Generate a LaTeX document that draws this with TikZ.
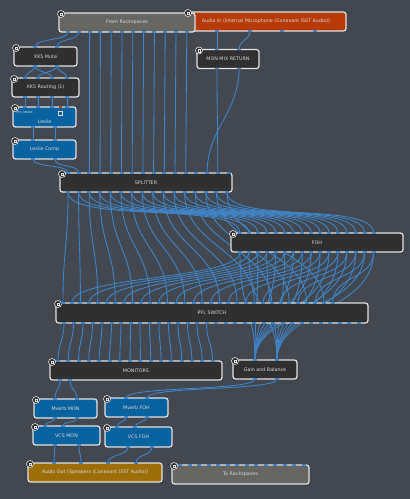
\documentclass[tikz,border=0pt]{standalone}
\usepackage{fontspec}
\setmainfont{DejaVu Sans}
\usepackage{xcolor}
\usepackage{tikz}
\usetikzlibrary{calc}

\definecolor{canvas}{RGB}{66,71,80}
\definecolor{rim}{RGB}{226,226,226}
\definecolor{txtgray}{RGB}{214,214,214}
\definecolor{coal}{RGB}{48,48,48}
\definecolor{slate}{RGB}{102,102,98}
\definecolor{plug}{RGB}{10,98,158}
\definecolor{rust}{RGB}{184,58,10}
\definecolor{ochre}{RGB}{158,110,8}
\definecolor{wire}{RGB}{64,132,198}

\pgfdeclarelayer{back}
\pgfdeclarelayer{wires}
\pgfsetlayers{back,wires,main}

\begin{document}
\begin{tikzpicture}[x=1pt,y=-1pt,font=\fontsize{4.8}{5.6}\selectfont,
  blk/.style={draw=rim,line width=1.2pt,rounded corners=2.6pt,fill=coal,text=txtgray,
    minimum height=19pt,inner sep=0pt,outer sep=0pt},
  ico/.style={circle,draw=rim,fill=coal,line width=0.6pt,minimum size=7pt,inner sep=0pt,
    path picture={\draw[rim,line width=0.4pt]
      ([shift={(-1.3,-1.3)}]path picture bounding box.center) rectangle
      ([shift={(1.3,1.3)}]path picture bounding box.center);}},
  lnk/.style={draw=wire,line width=0.85pt}]
\begin{pgfonlayer}{back}
\fill[canvas] (0,0) rectangle (410,499);
\end{pgfonlayer}
\useasboundingbox (0,0) rectangle (410,499);

% blocks
\node[blk,fill=rust,minimum width=160pt] (ain) at (266,21.5) {Audio In (Internal Microphone (Conexant ISST Audio))};
\node[blk,fill=slate,minimum width=136pt] (rack) at (127,22.5) {From Rackspaces};
\node[blk,minimum width=62pt] (mmr) at (228,59) {MON MIX RETURN};
\node[blk,minimum width=63pt] (mute) at (45.5,56.5) {XK5 Mute};
\node[blk,minimum width=67pt] (route) at (45.5,87.5) {XK5 Routing (1)};
\node[blk,fill=plug,minimum width=63pt,minimum height=20pt] (leslie) at (44.5,117) {};
\node[blk,fill=plug,minimum width=63pt] (lcomp) at (44.5,149.5) {Leslie Comp};
\node[blk,minimum width=172pt] (split) at (146,182.5) {SPLITTER};
\node[blk,minimum width=172pt] (foh) at (317,242.5) {FOH};
\node[blk,minimum width=312pt,minimum height=20pt] (pfl) at (212,313) {PFL SWITCH};
\node[blk,minimum width=172pt] (mon) at (136,370.5) {MONITORS};
\node[blk,minimum width=64pt] (gab) at (265,369.5) {Gain and Balance};
\node[blk,fill=plug,minimum width=63pt] (mvm) at (65.5,408.5) {Mverb MON};
\node[blk,fill=plug,minimum width=63pt] (mvf) at (136.5,407.5) {Mverb FOH};
\node[blk,fill=plug,minimum width=67pt] (vcsm) at (66.5,435.5) {VCS MON};
\node[blk,fill=plug,minimum width=67pt,minimum height=20pt] (vcsf) at (138.5,437) {VCS FOH};
\node[blk,fill=ochre,minimum width=134pt] (aout) at (95,472.5) {Audio Out (Speakers (Conexant ISST Audio))};
\node[blk,fill=slate,minimum width=137pt] (torack) at (240.5,474.5) {To Rackspaces};

% leslie face
\node[text=txtgray] (leslie-t) at (44.5,122) {Leslie};
\node[text=txtgray,font=\fontsize{3.6}{4}\selectfont,anchor=west,inner sep=0pt] (leslie-p) at (16.5,112.5) {trs\_leslie};
\node[draw=txtgray,line width=0.4pt,minimum width=4pt,minimum height=4pt,inner sep=0pt] (leslie-g) at (60.5,113.5) {};
\fill[rust] (59,106.3) rectangle (62,108);

\foreach \n in {ain,rack,mmr,mute,route,leslie,lcomp,split,foh,pfl,mon,gab,mvm,mvf,vcsm,vcsf,aout,torack}
  \node[ico] (\n-ic) at ($(\n.north west)+(2,1)$) {};

% ports
\foreach \k in {0,...,11} \coordinate (rk-o\k) at ({68+10.8*\k},0 |- rack.south);
\foreach \x [count=\k from 0] in {217,250,282,315} \coordinate (ai-o\k) at (\x,0 |- ain.south);
\foreach \x [count=\k from 0] in {217,239} {
  \coordinate (mm-i\k) at (\x,0 |- mmr.north);
  \coordinate (mm-o\k) at (\x,0 |- mmr.south);
}
\foreach \x [count=\k from 0] in {35,57} {
  \coordinate (mu-i\k) at (\x,0 |- mute.north);
  \coordinate (mu-o\k) at (\x,0 |- mute.south);
}
\foreach \x [count=\k from 0] in {25,38,52,67} {
  \coordinate (ro-i\k) at (\x,0 |- route.north);
  \coordinate (ro-o\k) at (\x,0 |- route.south);
  \coordinate (le-i\k) at (\x,0 |- leslie.north);
}
\foreach \x [count=\k from 0] in {33,55} {
  \coordinate (le-o\k) at (\x,0 |- leslie.south);
  \coordinate (lc-i\k) at (\x,0 |- lcomp.north);
  \coordinate (lc-o\k) at (\x,0 |- lcomp.south);
}
\foreach \k in {0,...,15} {
  \coordinate (sp-i\k) at ({68+10.7*\k},0 |- split.north);
  \coordinate (sp-o\k) at ({68+10.6*\k},0 |- split.south);
  \coordinate (fo-i\k) at ({240+8.9*\k},0 |- foh.north);
  \coordinate (fo-o\k) at ({240+8.9*\k},0 |- foh.south);
  \coordinate (mo-i\k) at ({58+10.3*\k},0 |- mon.north);
}
\foreach \k in {0,...,31} {
  \coordinate (pf-i\k) at ({63+8.7*\k},0 |- pfl.north);
  \coordinate (pf-o\k) at ({64+9.5*\k},0 |- pfl.south);
}
\foreach \x [count=\k from 0] in {60,70} \coordinate (mo-o\k) at (\x,0 |- mon.south);
\foreach \x [count=\k from 0] in {255,277} {
  \coordinate (gb-i\k) at (\x,0 |- gab.north);
  \coordinate (gb-o\k) at (\x,0 |- gab.south);
}
\foreach \x [count=\k from 0] in {55,77} {
  \coordinate (vm-i\k) at (\x,0 |- mvm.north);
  \coordinate (vm-o\k) at (\x,0 |- mvm.south);
}
\foreach \x [count=\k from 0] in {126,147} {
  \coordinate (vf-i\k) at (\x,0 |- mvf.north);
  \coordinate (vf-o\k) at (\x,0 |- mvf.south);
}
\foreach \a/\b [count=\k from 0] in {45/55,63/79} {
  \coordinate (cm-i\k) at (\a,0 |- vcsm.north);
  \coordinate (cm-o\k) at (\b,0 |- vcsm.south);
}
\foreach \a/\b [count=\k from 0] in {117/128,135/152} {
  \coordinate (cf-i\k) at (\a,0 |- vcsf.north);
  \coordinate (cf-o\k) at (\b,0 |- vcsf.south);
}
\foreach \x [count=\k from 0] in {54,81,108,136} \coordinate (ao-i\k) at (\x,0 |- aout.north);
\foreach \k in {0,...,13} \coordinate (tr-i\k) at ({180+9.5*\k},0 |- torack.north);

% port marks
\foreach \p in {rk-o0,rk-o1,rk-o2,rk-o3,rk-o4,rk-o5,rk-o6,rk-o7,rk-o8,rk-o9,rk-o10,rk-o11,
    ai-o0,ai-o1,ai-o2,ai-o3,mm-i0,mm-i1,mm-o0,mm-o1,mu-i0,mu-i1,mu-o0,mu-o1,
    ro-i0,ro-i1,ro-i2,ro-i3,ro-o0,ro-o1,ro-o2,ro-o3,le-i0,le-i1,le-i2,le-i3,le-o0,le-o1,
    lc-i0,lc-i1,lc-o0,lc-o1,mo-o0,mo-o1,gb-i0,gb-i1,gb-o0,gb-o1,vm-i0,vm-i1,vm-o0,vm-o1,
    vf-i0,vf-i1,vf-o0,vf-o1,cm-i0,cm-i1,cm-o0,cm-o1,cf-i0,cf-i1,cf-o0,cf-o1,
    ao-i0,ao-i1,ao-i2,ao-i3}
  \fill[wire] (\p) +(-2,-0.9) rectangle +(2,0.9);
\foreach \k in {0,...,15} {
  \fill[wire] (sp-i\k) +(-2,-0.9) rectangle +(2,0.9);
  \fill[wire] (sp-o\k) +(-2,-0.9) rectangle +(2,0.9);
  \fill[wire] (fo-i\k) +(-2,-0.9) rectangle +(2,0.9);
  \fill[wire] (fo-o\k) +(-2,-0.9) rectangle +(2,0.9);
  \fill[wire] (mo-i\k) +(-2,-0.9) rectangle +(2,0.9);
}
\foreach \k in {0,...,31} {
  \fill[wire] (pf-i\k) +(-2,-0.9) rectangle +(2,0.9);
  \fill[wire] (pf-o\k) +(-2,-0.9) rectangle +(2,0.9);
}
\foreach \k in {0,...,13} \fill[wire] (tr-i\k) +(-2,-0.9) rectangle +(2,0.9);

% connections
\begin{pgfonlayer}{wires}
\draw[lnk] (rk-o0) .. controls +(0,9) and +(0,-9) .. (mu-i0);
\draw[lnk] (rk-o1) .. controls +(0,9) and +(0,-9) .. (mu-i1);
\foreach \k in {2,...,11} \draw[lnk] (rk-o\k) -- (sp-i\k);
\draw[lnk] (ai-o0) .. controls +(0,9) and +(0,-9) .. (mm-i0);
\draw[lnk] (ai-o1) .. controls +(0,9) and +(0,-9) .. (mm-i1);
\draw[lnk] (mm-o0) .. controls +(0,45) and +(0,-45) .. (sp-i14);
\draw[lnk] (mm-o1) .. controls +(0,45) and +(0,-45) .. (sp-i13);
\foreach \a/\b in {0/0,0/2,1/1,1/3}
  \draw[lnk] (mu-o\a) .. controls +(0,6) and +(0,-6) .. (ro-i\b);
\foreach \k in {0,...,3} \draw[lnk] (ro-o\k) .. controls +(0,5) and +(0,-5) .. (le-i\k);
\foreach \k in {0,1} {
  \draw[lnk] (le-o\k) .. controls +(0,6) and +(0,-6) .. (lc-i\k);
  \draw[lnk] (lc-o\k) .. controls +(0,9) and +(0,-9) .. (sp-i\k);
}
\foreach \k [evaluate=\k as \a using {int(2*\k)}, evaluate=\k as \b using {int(2*\k+1)},
    evaluate=\k as \g using {int(mod(\k,2))}] in {0,...,15} {
  \draw[lnk] (sp-o\k) .. controls +(0,32) and +(0,-32) .. (fo-i\k);
  \draw[lnk] (sp-o\k) .. controls +(0,55) and +(0,-55) .. (pf-i\a);
  \draw[lnk] (fo-o\k) .. controls +(0,28) and +(0,-28) .. (pf-i\b);
  \draw[lnk] (fo-o\k) .. controls +(0,60) and +(0,-50) .. (gb-i\g);
  \draw[lnk] (pf-o\k) .. controls +(0,18) and +(0,-18) .. (mo-i\k);
}
\foreach \k in {0,1} {
  \draw[lnk] (mo-o\k) .. controls +(0,10) and +(0,-10) .. (vm-i\k);
  \draw[lnk] (gb-o\k) .. controls +(0,12) and +(0,-12) .. (vf-i\k);
  \draw[lnk] (vm-o\k) .. controls +(0,5) and +(0,-5) .. (cm-i\k);
  \draw[lnk] (vf-o\k) .. controls +(0,5) and +(0,-5) .. (cf-i\k);
  \draw[lnk] (cm-o\k) .. controls +(0,9) and +(0,-9) .. (ao-i\k);
}
\draw[lnk] (cf-o0) .. controls +(0,9) and +(0,-9) .. (ao-i2);
\draw[lnk] (cf-o1) .. controls +(0,9) and +(0,-9) .. (ao-i3);
\end{pgfonlayer}
\end{tikzpicture}
\end{document}
